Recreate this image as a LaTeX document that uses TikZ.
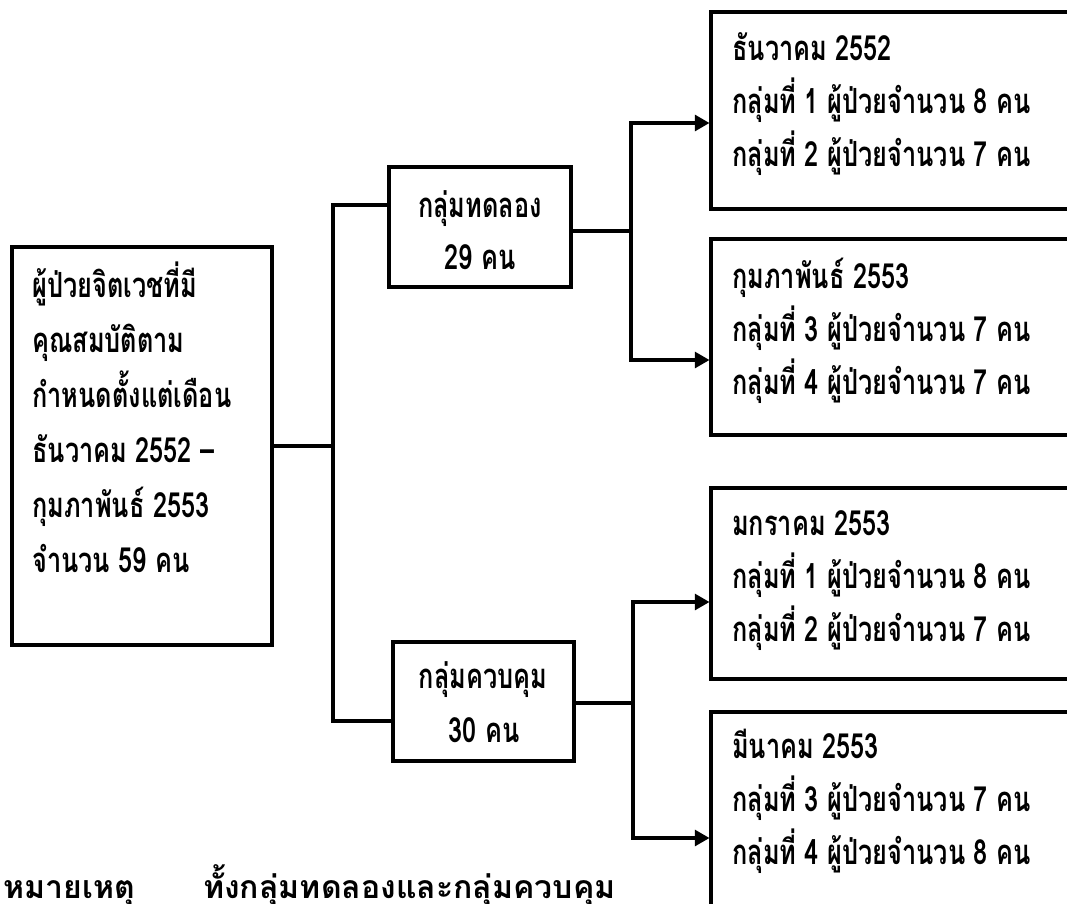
\documentclass[tikz,border=0pt]{standalone}
\usepackage{fontspec}
\newfontfamily\thai[Script=Thai]{Loma}
\newfontfamily\thainarrow[Script=Thai,FakeStretch=0.73]{Loma}
\usetikzlibrary{arrows.meta,fit}
\begin{document}
\begin{tikzpicture}[x=0.75pt,y=-0.75pt,
  box/.style={draw,line width=2.3pt,inner sep=0pt},
  conn/.style={line width=2.3pt},
  arr/.style={line width=2.3pt,-{Triangle[length=11pt,width=12pt]}},
  txt/.style={anchor=base west,inner sep=0pt,font=\thainarrow\bfseries\fontsize{26}{30}\selectfont},
  ctxt/.style={anchor=base,inner sep=0pt,font=\thainarrow\bfseries\fontsize{26}{30}\selectfont},
  note/.style={anchor=base west,inner sep=0pt,font=\thai\bfseries\fontsize{24}{28}\selectfont}]
\clip (0,0) rectangle (1067,903);
\fill[white] (0,0) rectangle (1067,903);
% boxes
\node[box,fit={(12,247) (272,645)}] (src) {};
\node[box,fit={(389,167) (571,287)}] (exp) {};
\node[box,fit={(393,642) (574,761)}] (ctl) {};
\node[box,fit={(711,12) (1085,209)}] (r1) {};
\node[box,fit={(711,239) (1085,435)}] (r2) {};
\node[box,fit={(711,488) (1085,679)}] (r3) {};
\node[box,fit={(711,712) (1085,940)}] (r4) {};
% texts
\foreach \t [count=\i] in {ผู้ป่วยจิตเวชที่มี,คุณสมบัติตาม,กำหนดตั้งแต่เดือน,ธันวาคม 2552 –,กุมภาพันธ์ 2553,จำนวน 59 คน}
  \node[txt] (s\i) at (32,242+55*\i) {\t};
\node[ctxt] (e1) at (480,217) {กลุ่มทดลอง};
\node[ctxt] (e2) at (480,269) {29 คน};
\node[ctxt] (c1) at (483,688) {กลุ่มควบคุม};
\node[ctxt] (c2) at (484,742) {30 คน};
\foreach \t [count=\i] in {ธันวาคม 2552,กลุ่มที่ 1 ผู้ป่วยจำนวน 8 คน,กลุ่มที่ 2 ผู้ป่วยจำนวน 7 คน}
  \node[txt] (a\i) at (732,7+53*\i) {\t};
\foreach \t [count=\i] in {กุมภาพันธ์ 2553,กลุ่มที่ 3 ผู้ป่วยจำนวน 7 คน,กลุ่มที่ 4 ผู้ป่วยจำนวน 7 คน}
  \node[txt] (b\i) at (732,235+53*\i) {\t};
\foreach \t [count=\i] in {มกราคม 2553,กลุ่มที่ 1 ผู้ป่วยจำนวน 8 คน,กลุ่มที่ 2 ผู้ป่วยจำนวน 7 คน}
  \node[txt] (m\i) at (732,482+53*\i) {\t};
\foreach \t [count=\i] in {มีนาคม 2553,กลุ่มที่ 3 ผู้ป่วยจำนวน 7 คน,กลุ่มที่ 4 ผู้ป่วยจำนวน 8 คน}
  \node[txt] (n\i) at (732,705+53*\i) {\t};
\node[note] (n0) at (3,898) {หมายเหตุ};
\node[note] (nt) at (203,898) {ทั้งกลุ่มทดลองและกลุ่มควบคุม};
% connectors
\coordinate (tt) at (333,205);
\coordinate (tb) at (333,721);
\coordinate (ej) at (631,231);
\coordinate (cj) at (633,703);
\draw[conn] (src.east) -- (src.east -| tt);
\draw[conn] (exp.west |- tt) -- (tt) -- (tb) -- (ctl.west |- tb);
\draw[conn] (exp.east |- ej) -- (ej);
\draw[arr] (ej) |- (r1.west |- 0,123);
\draw[arr] (ej) |- (r2.west |- 0,360);
\draw[conn] (ctl.east |- cj) -- (cj);
\draw[arr] (cj) |- (r3.west |- 0,602);
\draw[arr] (cj) |- (r4.west |- 0,838);
\end{tikzpicture}
\end{document}
